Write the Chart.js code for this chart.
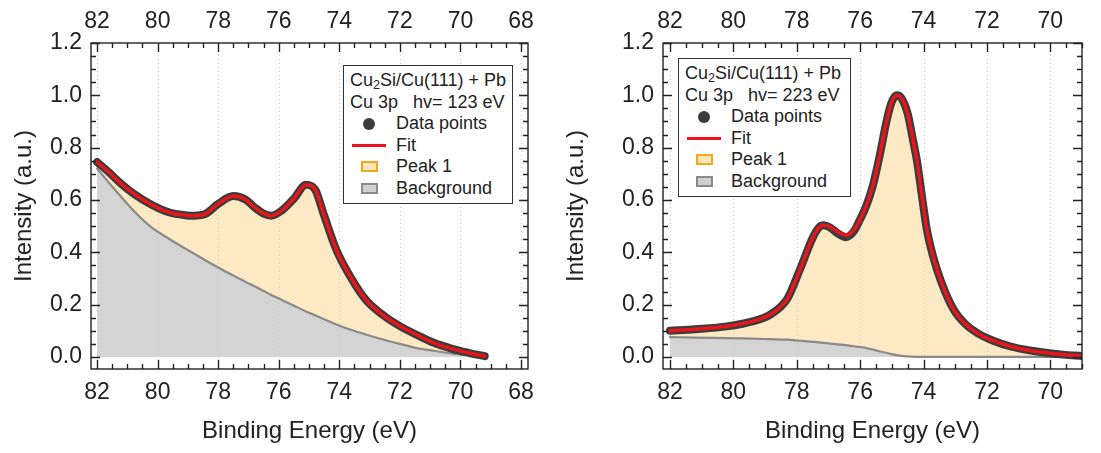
<!DOCTYPE html>
<html>
<head>
<meta charset="utf-8">
<script src="https://cdn.jsdelivr.net/npm/chart.js@4.4.0/dist/chart.umd.min.js"></script>
<style>
  html, body { margin: 0; padding: 0; background: #fff; }
  body { width: 1101px; height: 453px; position: relative; overflow: hidden;
         font-family: 'Liberation Sans', Arial, sans-serif; color: #222; }
  .panel { position: absolute; top: 0; height: 453px; }
  #panelLeft { left: 0; width: 550px; }
  #panelRight { left: 550px; width: 551px; }
  .legend { position: absolute; background: #fff; border: 1.5px solid #333;
            padding: 4px 5px 4px 6px; box-sizing: border-box; white-space: nowrap; }
  .legend .row { height: 21.5px; line-height: 21.5px; position: relative; }
  .legend .sym { position: absolute; top: 0; height: 21.5px; }
  .legend .txt { position: absolute; top: 0; }
  .legend sub { font-size: 70%; line-height: 0; vertical-align: -0.25em; }
</style>
</head>
<body>
<div class="panel" id="panelLeft"><canvas id="chart123"></canvas></div>
<div class="panel" id="panelRight"><canvas id="chart223"></canvas></div>
<script>
// tick labels
const xTicks123 = [82, 80, 78, 76, 74, 72, 70, 68];
const xTicks223 = [82, 80, 78, 76, 74, 72, 70];
const yTicks = [0.0, 0.2, 0.4, 0.6, 0.8, 1.0, 1.2];

// Cu 3p, hv = 123 eV
const energy123 = [82.0, 81.6, 81.3, 80.8, 80.2, 79.6, 79.1, 78.8, 78.4, 78.0, 77.5, 77.1, 76.8, 76.5, 76.25,
                   75.9, 75.5, 75.1, 74.8, 74.5, 74.1, 73.6, 73.1, 72.5, 72.0, 71.4, 70.9, 70.3, 69.7, 69.2];
const data123 = [0.745, 0.705, 0.672, 0.625, 0.582, 0.552, 0.542, 0.540, 0.548, 0.585, 0.615, 0.602, 0.572, 0.548, 0.540,
                 0.560, 0.605, 0.658, 0.640, 0.540, 0.410, 0.300, 0.215, 0.155, 0.118, 0.082, 0.055, 0.032, 0.015, 0.003];
const fit123 = [0.745, 0.705, 0.672, 0.625, 0.582, 0.552, 0.542, 0.540, 0.548, 0.585, 0.615, 0.602, 0.572, 0.548, 0.540,
                0.560, 0.605, 0.658, 0.640, 0.540, 0.410, 0.300, 0.215, 0.155, 0.118, 0.082, 0.055, 0.032, 0.015, 0.003];
const background123 = [0.720, 0.665, 0.625, 0.560, 0.495, 0.450, 0.415, 0.395, 0.368, 0.342, 0.311, 0.287, 0.270, 0.252, 0.237,
                       0.218, 0.196, 0.174, 0.159, 0.144, 0.124, 0.103, 0.085, 0.065, 0.050, 0.033, 0.024, 0.014, 0.006, 0.000];

// Cu 3p, hv = 223 eV
const energy223 = [82.0, 81.2, 80.2, 79.4, 78.85, 78.3, 77.9, 77.5, 77.3, 77.15, 76.95, 76.7, 76.45, 76.2, 76.0, 75.8,
                   75.6, 75.4, 75.15, 75.0, 74.85, 74.7, 74.5, 74.35, 74.2, 74.05, 73.9, 73.7, 73.45, 73.05,
                   72.7, 72.3, 71.8, 71.25, 70.7, 70.2, 69.6, 69.0];
const data223 = [0.100, 0.106, 0.117, 0.136, 0.161, 0.222, 0.334, 0.455, 0.495, 0.503, 0.495, 0.472, 0.458, 0.480, 0.526, 0.580,
                 0.654, 0.760, 0.910, 0.975, 1.000, 0.990, 0.930, 0.840, 0.744, 0.615, 0.490, 0.385, 0.290, 0.181,
                 0.128, 0.091, 0.062, 0.040, 0.026, 0.017, 0.009, 0.004];
const fit223 = [0.100, 0.106, 0.117, 0.136, 0.161, 0.222, 0.334, 0.455, 0.495, 0.503, 0.497, 0.478, 0.466, 0.485, 0.526, 0.580,
                0.654, 0.760, 0.910, 0.975, 1.000, 0.990, 0.930, 0.840, 0.744, 0.615, 0.490, 0.385, 0.290, 0.181,
                0.128, 0.091, 0.062, 0.040, 0.026, 0.017, 0.009, 0.004];
const background223 = [0.076, 0.074, 0.072, 0.070, 0.068, 0.066, 0.062, 0.058, 0.056, 0.054, 0.051, 0.048, 0.045, 0.041, 0.038, 0.034,
                       0.028, 0.022, 0.015, 0.011, 0.007, 0.004, 0.002, 0.001, 0.000, 0.000, 0.000, 0.000, 0.000, 0.000,
                       0.000, 0.000, 0.000, 0.000, 0.000, 0.000, 0.000, 0.000];

const FONT = "'Liberation Sans', Arial, sans-serif";
const INK = '#222';

function pts(xs, ys) {
  return xs.map((x, i) => ({ x: x, y: ys[i] }));
}

// frame, inward ticks on all sides, dotted grid at major energies
const framePlugin = {
  id: 'framePlugin',
  beforeDatasetsDraw(chart) {
    const { ctx, chartArea: a, scales: { x } } = chart;
    ctx.save();
    ctx.strokeStyle = '#c9c9c9';
    ctx.lineWidth = 1;
    ctx.setLineDash([1, 3]);
    x.ticks.forEach(t => {
      const px = Math.round(x.getPixelForValue(t.value)) + 0.5;
      ctx.beginPath(); ctx.moveTo(px, a.top); ctx.lineTo(px, a.bottom); ctx.stroke();
    });
    ctx.restore();
  },
  afterDatasetsDraw(chart) {
    const { ctx, chartArea: a, scales: { x, y } } = chart;
    ctx.save();
    ctx.strokeStyle = INK;
    ctx.lineWidth = 1.4;
    ctx.strokeRect(a.left, a.top, a.right - a.left, a.bottom - a.top);
    ctx.beginPath();
    for (let v = Math.ceil(x.min * 2) / 2; v <= x.max + 1e-9; v += 0.5) {
      const len = Math.abs(v % 2) < 1e-6 ? 9 : 5;
      const px = Math.round(x.getPixelForValue(v)) + 0.5;
      ctx.moveTo(px, a.bottom); ctx.lineTo(px, a.bottom - len);
      ctx.moveTo(px, a.top); ctx.lineTo(px, a.top + len);
    }
    for (let i = 0; i <= 24; i++) {
      const v = i * 0.05;
      const len = i % 4 === 0 ? 9 : 5;
      const py = Math.round(y.getPixelForValue(v)) + 0.5;
      ctx.moveTo(a.left, py); ctx.lineTo(a.left + len, py);
      ctx.moveTo(a.right, py); ctx.lineTo(a.right - len, py);
    }
    ctx.stroke();
    ctx.restore();
  }
};

function makeChart(canvasId, cfg) {
  // first dataset is drawn on top
  const datasets = [
    { label: 'Fit', data: pts(cfg.energy, cfg.fit), borderColor: '#e8161c', borderWidth: 3.5,
      fill: false, legendSymbol: 'line' },
    { label: 'Data points', data: pts(cfg.energy, cfg.data), borderColor: '#3c3c3c', borderWidth: 8,
      fill: false, legendSymbol: 'dot' },
    { label: 'Peak 1', data: pts(cfg.energy, cfg.fit), borderWidth: 0, borderColor: 'rgba(0,0,0,0)',
      backgroundColor: '#fde9c3', fill: '+1', legendSymbol: 'box', legendFill: '#fde6b8', legendEdge: '#f5a51e' },
    { label: 'Background', data: pts(cfg.energy, cfg.background), borderColor: '#8a8a8a', borderWidth: 2.2,
      backgroundColor: '#d4d4d4', fill: 'origin', legendSymbol: 'box', legendFill: '#d0d0d0', legendEdge: '#8a8a8a' }
  ];
  return new Chart(document.getElementById(canvasId), {
    type: 'line',
    data: { datasets: datasets },
    options: {
      responsive: true,
      maintainAspectRatio: false,
      animation: false,
      layout: { padding: 0 },
      elements: {
        point: { radius: 0, hoverRadius: 0 },
        line: { cubicInterpolationMode: 'monotone', borderCapStyle: 'round', borderJoinStyle: 'round' }
      },
      plugins: {
        legend: { display: false },
        tooltip: { enabled: false },
        filler: { drawTime: 'beforeDatasetsDraw' }
      },
      scales: {
        x: {
          type: 'linear', position: 'bottom', reverse: true, min: cfg.xMin, max: cfg.xMax,
          afterBuildTicks: s => { s.ticks = cfg.xTicks.map(v => ({ value: v })); },
          afterFit: s => { s.height = 453 - cfg.bottom; },
          grid: { display: false, drawTicks: false }, border: { display: false },
          ticks: { color: INK, font: { family: FONT, size: 23 }, padding: 10, maxRotation: 0, autoSkip: false },
          title: { display: true, text: 'Binding Energy (eV)', color: INK,
                   font: { family: FONT, size: 24 }, padding: { top: 0, bottom: 7 } }
        },
        x2: {
          type: 'linear', position: 'top', reverse: true, min: cfg.xMin, max: cfg.xMax,
          afterBuildTicks: s => { s.ticks = cfg.xTicks.map(v => ({ value: v })); },
          afterFit: s => { s.height = cfg.top; },
          grid: { display: false, drawTicks: false }, border: { display: false },
          ticks: { color: INK, font: { family: FONT, size: 23 }, padding: 8, maxRotation: 0, autoSkip: false }
        },
        y: {
          type: 'linear', position: 'left', min: -0.046, max: 1.2,
          afterBuildTicks: s => { s.ticks = yTicks.map(v => ({ value: v })); },
          afterFit: s => { s.width = cfg.left; },
          grid: { display: false, drawTicks: false }, border: { display: false },
          ticks: { color: INK, font: { family: FONT, size: 23 }, padding: 9, callback: v => v.toFixed(1) },
          title: { display: true, text: 'Intensity (a.u.)', color: INK,
                   font: { family: FONT, size: 24 }, padding: { top: cfg.titlePad, bottom: 0 } }
        },
        y2: {
          type: 'linear', position: 'right', min: -0.046, max: 1.2,
          afterFit: s => { s.width = cfg.rightGap; },
          grid: { display: false, drawTicks: false }, border: { display: false },
          ticks: { display: false }
        }
      }
    },
    plugins: [framePlugin]
  });
}

// html legend built from the chart's datasets
function buildLegend(chart, panelId, pos, hv) {
  const box = document.createElement('div');
  box.className = 'legend';
  box.style.left = pos.left + 'px';
  box.style.top = pos.top + 'px';
  box.style.width = pos.width + 'px';
  box.style.fontSize = pos.font + 'px';
  let html = '<div class="row">Cu<sub>2</sub>Si/Cu(111) + Pb</div>';
  html += '<div class="row">Cu 3p&nbsp;&nbsp;&nbsp;hv= ' + hv + ' eV</div>';
  const order = ['Data points', 'Fit', 'Peak 1', 'Background'];
  order.forEach(name => {
    const ds = chart.data.datasets.find(d => d.label === name);
    let sym = '';
    if (ds.legendSymbol === 'dot') {
      sym = '<div class="sym" style="left:' + (pos.sym - 6) + 'px"><div style="margin-top:5px;width:12px;height:12px;border-radius:50%;background:' + ds.borderColor + '"></div></div>';
    } else if (ds.legendSymbol === 'line') {
      sym = '<div class="sym" style="left:' + (pos.sym - 17) + 'px"><div style="margin-top:9px;width:34px;height:3px;background:' + ds.borderColor + '"></div></div>';
    } else {
      sym = '<div class="sym" style="left:' + (pos.sym - 8) + 'px"><div style="margin-top:5px;width:17px;height:11px;box-sizing:border-box;border:2px solid ' + ds.legendEdge + ';background:' + ds.legendFill + '"></div></div>';
    }
    html += '<div class="row">' + sym + '<span class="txt" style="left:' + pos.text + 'px">' + ds.label + '</span></div>';
  });
  box.innerHTML = html;
  document.getElementById(panelId).appendChild(box);
}

const chart123 = makeChart('chart123', {
  energy: energy123, data: data123, fit: fit123, background: background123, xTicks: xTicks123,
  xMin: 67.77, xMax: 82.2, left: 91, rightGap: 550 - 528, top: 43, bottom: 369, titlePad: 10
});
const chart223 = makeChart('chart223', {
  energy: energy223, data: data223, fit: fit223, background: background223, xTicks: xTicks223,
  xMin: 69.0, xMax: 82.22, left: 113, rightGap: 551 - 532, top: 43, bottom: 369, titlePad: 12
});

buildLegend(chart123, 'panelLeft', { left: 343, top: 65, width: 170, font: 18, sym: 19, text: 46 }, '123');
buildLegend(chart223, 'panelRight', { left: 128, top: 58, width: 173, font: 18, sym: 19, text: 46 }, '223');
</script>
</body>
</html>
